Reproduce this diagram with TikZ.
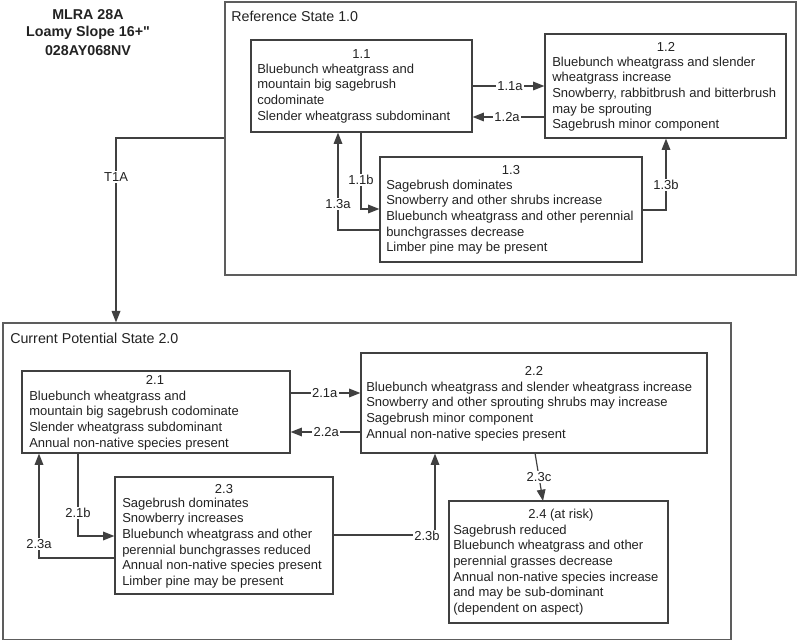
\documentclass[tikz,border=0pt]{standalone}
\usepackage{fontspec}
\setmainfont{Liberation Sans}
\newfontfamily\plainsans{Liberation Sans}
\usetikzlibrary{arrows.meta,fit}
\definecolor{linec}{HTML}{404040}
\definecolor{textc}{HTML}{222222}
\tikzset{
  statebox/.style={draw=linec, line width=0.9pt, inner sep=0pt},
  outerbox/.style={draw=linec!85, line width=1pt, inner sep=0pt},
  num/.style={font=\fontsize{9.75}{11.7}\selectfont, text=textc, inner sep=0pt, anchor=base},
  body/.style={font=\fontsize{9.75}{11.7}\selectfont, text=textc, inner sep=0pt, anchor=north west, align=left},
  head/.style={font=\fontsize{10.7}{12.8}\selectfont, text=textc, inner sep=0pt, anchor=west},
  ttl/.style={font=\plainsans\fontsize{10.7}{12.8}\selectfont\bfseries, text=textc, inner sep=0pt},
  lbl/.style={font=\fontsize{9.75}{11.7}\selectfont, text=textc, fill=white, inner sep=1pt},
  conn/.style={draw=linec, line width=0.9pt},
  arr/.style={conn, -{Triangle[length=8.5pt,width=6.5pt]}},
}
\begin{document}
\begin{tikzpicture}[x=0.75pt,y=-0.75pt]
\useasboundingbox (0,0) rectangle (800,641);
% title
\node[ttl] (t1) at (88,15) {MLRA 28A};
\node[ttl] (t2) at (88,33) {Loamy Slope 16+"};
\node[ttl] (t3) at (88,51) {028AY068NV};
% outer states
\node[outerbox, fit={(225,2)(796,275)}] (ref) {};
\node[head] (refh) at (231,16) {Reference State 1.0};
\node[outerbox, fit={(3,323)(731,639.5)}] (cur) {};
\node[head] (curh) at (10,338) {Current Potential State 2.0};
% state boxes
\node[statebox, fit={(251,40)(472,132)}] (s11) {};
\node[statebox, fit={(545,34)(786,138)}] (s12) {};
\node[statebox, fit={(380,157)(642,262)}] (s13) {};
\node[statebox, fit={(22,371)(290,453)}] (s21) {};
\node[statebox, fit={(361,353)(707,453)}] (s22) {};
\node[statebox, fit={(115,477)(333,594)}] (s23) {};
\node[statebox, fit={(449,501)(668,623)}] (s24) {};
% numbers
\node[num] (n11) at (361.5,58.6) {1.1};
\node[num] (n12) at (666,51.6) {1.2};
\node[num] (n13) at (511,174.6) {1.3};
\node[num] (n21) at (155,384.6) {2.1};
\node[num] (n22) at (534,375.6) {2.2};
\node[num] (n23) at (224,493.6) {2.3};
\node[num] (n24) at (561,518.6) {2.4 (at risk)};
% bodies
\node[body] (b11) at (257,63.6) {Bluebunch wheatgrass and\\mountain big sagebrush\\codominate\\Slender wheatgrass subdominant};
\node[body] (b12) at (552,56.6) {Bluebunch wheatgrass and slender\\wheatgrass increase\\Snowberry, rabbitbrush and bitterbrush\\may be sprouting\\Sagebrush minor component};
\node[body] (b13) at (386,179.6) {Sagebrush dominates\\Snowberry and other shrubs increase\\Bluebunch wheatgrass and other perennial\\bunchgrasses decrease\\Limber pine may be present};
\node[body] (b21) at (29,390.6) {Bluebunch wheatgrass and\\mountain big sagebrush codominate\\Slender wheatgrass subdominant\\Annual non-native species present};
\node[body] (b22) at (366,381.6) {Bluebunch wheatgrass and slender wheatgrass increase\\Snowberry and other sprouting shrubs may increase\\Sagebrush minor component\\Annual non-native species present};
\node[body] (b23) at (122,497.6) {Sagebrush dominates\\Snowberry increases\\Bluebunch wheatgrass and other\\perennial bunchgrasses reduced\\Annual non-native species present\\Limber pine may be present};
\node[body] (b24) at (453,524.6) {Sagebrush reduced\\Bluebunch wheatgrass and other\\perennial grasses decrease\\Annual non-native species increase\\and may be sub-dominant\\(dependent on aspect)};
% helper coordinates
\coordinate (y86) at (0,86);
\coordinate (y117) at (0,117);
\coordinate (y138) at (0,138);
\coordinate (y209) at (0,209);
\coordinate (y210) at (0,210);
\coordinate (y230) at (0,230);
\coordinate (y393) at (0,393);
\coordinate (y432) at (0,432);
\coordinate (y535) at (0,535);
\coordinate (y536) at (0,536);
\coordinate (y558) at (0,558);
\coordinate (x39) at (39,0);
\coordinate (x78) at (78,0);
\coordinate (x116) at (116,0);
\coordinate (x338) at (338,0);
\coordinate (x361) at (361,0);
\coordinate (x435) at (435,0);
\coordinate (x666) at (666,0);
\coordinate (c23a) at (535,453);
\coordinate (c23b) at (543,501);
% connectors state 1
\draw[arr] (s11.east |- y86) -- node[lbl, pos=0.52] {1.1a} (s12.west |- y86);
\draw[arr] (s12.west |- y117) -- node[lbl, pos=0.52] {1.2a} (s11.east |- y117);
\draw[arr] (s11.south -| x361) -- node[lbl, pos=0.62] {1.1b} (x361 |- y209) -- (s13.west |- y209);
\draw[arr] (s13.west |- y230) -- (x338 |- y230) -- node[lbl, pos=0.27] {1.3a} (s11.south -| x338);
\draw[arr] (s13.east |- y210) -- (x666 |- y210) -- node[lbl, pos=0.35] {1.3b} (s12.south -| x666);
\draw[arr] (ref.west |- y138) -- (x116 |- y138) -- node[lbl, pos=0.21] {T1A} (cur.north -| x116);
% connectors state 2
\draw[arr] (s21.east |- y393) -- node[lbl, pos=0.49] {2.1a} (s22.west |- y393);
\draw[arr] (s22.west |- y432) -- node[lbl, pos=0.49] {2.2a} (s21.east |- y432);
\draw[arr] (s21.south -| x78) -- node[lbl, pos=0.72] {2.1b} (x78 |- y536) -- (s23.west |- y536);
\draw[arr] (s23.west |- y558) -- (x39 |- y558) -- node[lbl, pos=0.13] {2.3a} (s21.south -| x39);
\draw[arr] (s23.east |- y535) -- (x435 |- y535) -- (s22.south -| x435);
\node[lbl] (l23b) at (427,536) {2.3b};
\draw[arr] (c23a) -- node[lbl, pos=0.5] {2.3c} (c23b);
\end{tikzpicture}
\end{document}
